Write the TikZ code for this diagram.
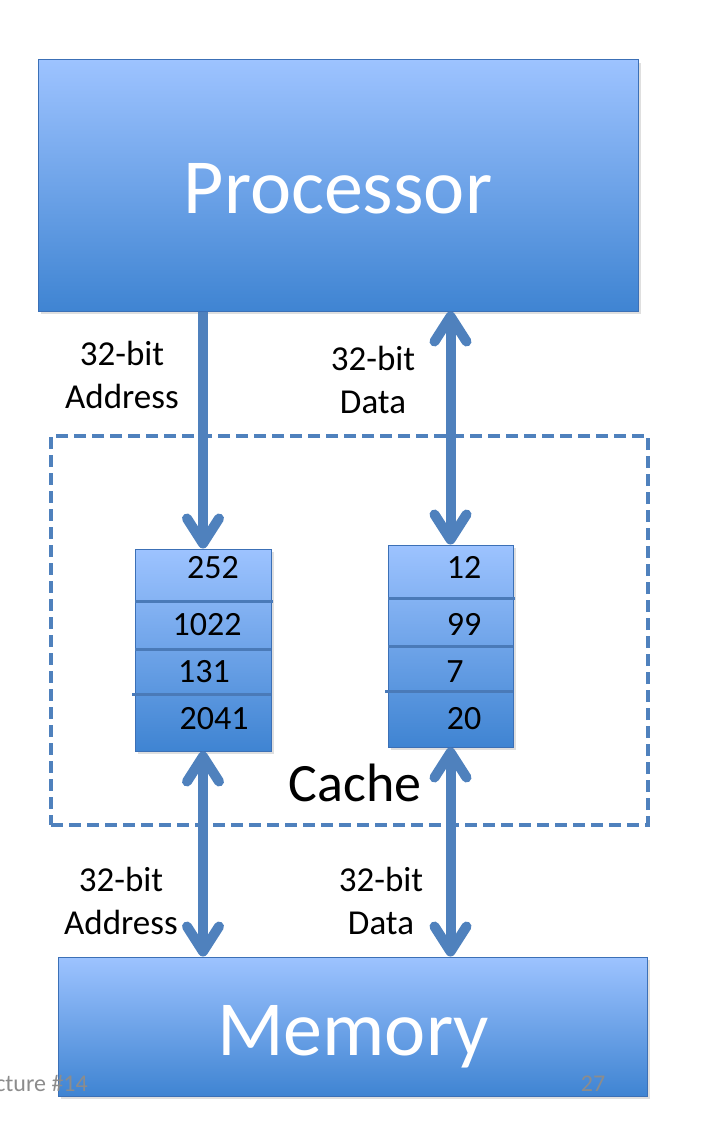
\documentclass[tikz,border=0pt]{standalone}
\usepackage{fontspec}
\setmainfont{Carlito}
\usetikzlibrary{arrows.meta,shadows}
\definecolor{topc}{HTML}{9DC3FF}
\definecolor{botc}{HTML}{3F84D2}
\definecolor{edgec}{HTML}{3C70B6}
\definecolor{busc}{HTML}{4F81BD}
\definecolor{sepc}{HTML}{4A7AB8}
\definecolor{footc}{HTML}{8C8C8C}
\tikzset{
  bluebox/.style={draw=edgec, line width=1pt, top color=topc, bottom color=botc,
    inner sep=0pt, drop shadow={shadow xshift=3pt, shadow yshift=-3pt, opacity=0.25}},
  bigtext/.style={text=white, font=\fontsize{78}{90}\selectfont, anchor=base},
  lbl/.style={font=\fontsize{35}{43}\selectfont, align=center, inner sep=0pt},
  num/.style={font=\fontsize{34}{40}\selectfont, anchor=base, inner sep=0pt},
  sepline/.style={draw=sepc, line width=3pt},
  bhead/.tip={Straight Barb[length=25pt, width=32pt, round]},
  bus/.style={draw=busc, line width=10pt},
  foot/.style={text=footc, font=\fontsize{24}{28}\selectfont, anchor=base, inner sep=0pt},
}
\begin{document}
\begin{tikzpicture}[x=1pt, y=-1pt]
\useasboundingbox (0,0) rectangle (714,1124);
% boxes
\node[bluebox, minimum width=600pt, minimum height=251pt] (proc) at (338,185.5) {};
\node[bigtext] (proct) at (338,213) {Processor};
\node[draw=busc, dashed, dash pattern=on 12pt off 6pt, line width=3.5pt, minimum width=597pt, minimum height=389pt, inner sep=0pt] (cache) at (349.5,630.5) {};
\node[font=\fontsize{54}{60}\selectfont, anchor=base, inner sep=0pt] (cachet) at (355,801) {Cache};
\node[bluebox, minimum width=589pt, minimum height=139pt] (mem) at (352.5,1026.5) {};
\node[bigtext] (memt) at (353,1055) {Memory};
% arrays
\node[bluebox, minimum width=136pt, minimum height=202pt] (a1) at (203,650) {};
\node[bluebox, minimum width=125pt, minimum height=202pt] (a2) at (450.5,646) {};
\draw[sepline] (135,601) -- (273,601);
\draw[sepline] (135,649) -- (271,649);
\draw[sepline] (132,694) -- (271,694);
\draw[sepline] (388,598) -- (515,598);
\draw[sepline] (388,646) -- (513,646);
\draw[sepline] (385,691) -- (513,691);
\node[num] (n1) at (213,578) {252};
\node[num] (n2) at (207,635) {1022};
\node[num] (n3) at (204,682) {131};
\node[num] (n4) at (214,729) {2041};
\node[num] (m1) at (464,578) {12};
\node[num] (m2) at (464,635) {99};
\node[num] (m3) at (455,682) {7};
\node[num] (m4) at (464,729) {20};
% buses
\draw[bus, -bhead] (proc.south -| a1.north) -- (a1.north);
\draw[bus, bhead-bhead] (proc.south -| a2.north) -- (a2.north);
\draw[bus, bhead-bhead] (a1.south) -- (mem.north -| a1.south);
\draw[bus, bhead-bhead] (a2.south) -- (mem.north -| a2.south);
% labels
\node[lbl] (l1) at (122,375) {32-bit\\Address};
\node[lbl] (l2) at (373,380) {32-bit\\Data};
\node[lbl] (l3) at (121,901) {32-bit\\Address};
\node[lbl] (l4) at (381,901) {32-bit\\Data};
% footer
\node[foot, anchor=base east] (f1) at (88,1091) {cture \#14};
\node[foot] (f2) at (593,1091) {27};
\end{tikzpicture}
\end{document}
